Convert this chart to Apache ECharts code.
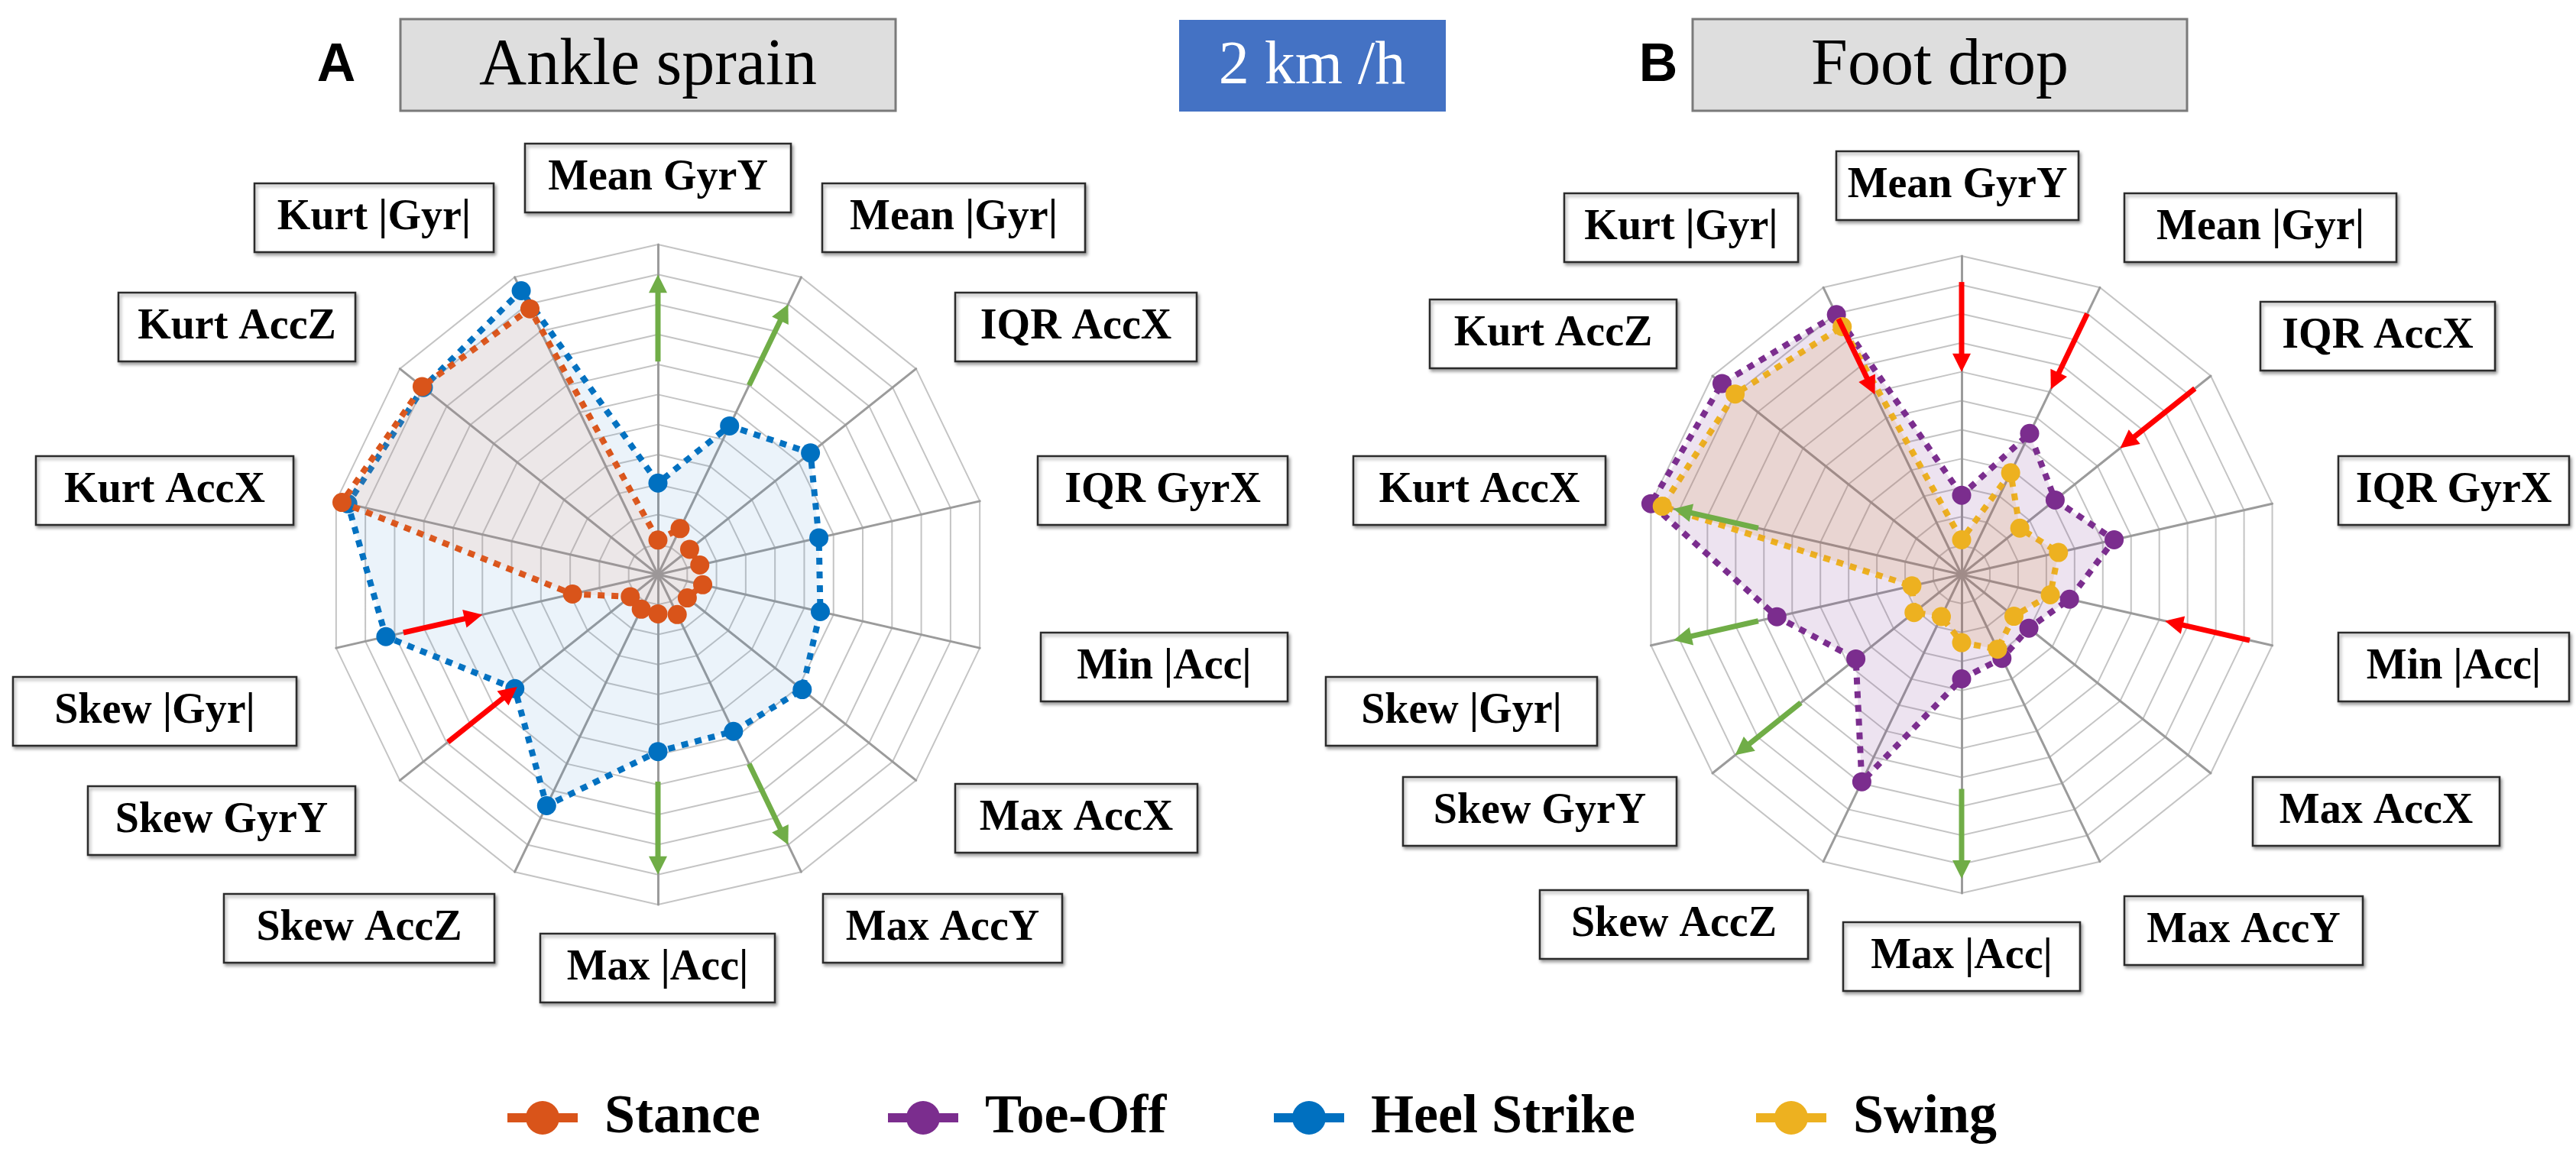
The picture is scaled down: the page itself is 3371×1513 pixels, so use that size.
<!DOCTYPE html>
<html>
<head>
<meta charset="utf-8">
<script src="https://cdn.jsdelivr.net/npm/echarts@6/dist/echarts.min.js"></script>
<style>
  html, body { margin: 0; padding: 0; background: #ffffff; }
  #chart { width: 3371px; height: 1513px; }
</style>
</head>
<body>
<div id="chart"></div>
<script>
// ---------------- DATA ----------------
// features, clockwise from the top
const categories = ['Mean GyrY', 'Mean |Gyr|', 'IQR AccX', 'IQR GyrX', 'Min |Acc|', 'Max AccX', 'Max AccY',
  'Max |Acc|', 'Skew AccZ', 'Skew GyrY', 'Skew |Gyr|', 'Kurt AccX', 'Kurt AccZ', 'Kurt |Gyr|'];
const ringMax = 11;

// Panel A: Ankle sprain
const heelStrikeA = [3.05, 5.5, 6.5, 5.5, 5.55, 6.15, 5.8, 5.9, 8.55, 6.1, 9.3, 10.6, 10.0, 10.5];
const stanceA     = [1.15, 1.7, 1.35, 1.43, 1.53, 1.25, 1.48, 1.31, 1.28, 1.18, 2.92, 10.8, 10.05, 9.83];

// Panel B: Foot drop
const toeOffB = [2.74, 5.41, 4.13, 5.4, 3.82, 2.97, 3.21, 3.6, 7.94, 4.67, 6.54, 11.0, 10.58, 9.96];
const swingB  = [1.2, 3.9, 2.57, 3.43, 3.14, 2.31, 2.86, 2.35, 1.61, 2.1, 1.76, 10.6, 10.0, 9.5];

// arrows: [feature index, from ring, to ring, direction]
const arrowsA = [[0, 7.1, 10, 'up'], [1, 7, 10, 'up'], [6, 7, 10, 'up'], [7, 6.9, 10, 'up'],
  [9, 8.95, 6, 'down'], [10, 8.7, 6, 'down']];
const arrowsB = [[0, 10.1, 7, 'down'], [1, 10, 7.1, 'down'], [2, 10.3, 7, 'down'], [4, 10.2, 7.2, 'down'],
  [13, 9.8, 6.9, 'down'], [11, 7.2, 10.2, 'up'], [10, 7.2, 10.2, 'up'], [9, 7.1, 10, 'up'], [7, 7.4, 10.5, 'up']];

const seriesNames = ['Stance', 'Toe-Off', 'Heel Strike', 'Swing'];
const panelTitles = ['Ankle sprain', 'Foot drop'];
const panelLetters = ['A', 'B'];
const speedLabel = '2 km /h';

// ---------------- STYLE / LAYOUT ----------------
const colors = { 'Stance': '#D9541A', 'Toe-Off': '#7B2D8E', 'Heel Strike': '#0070C0', 'Swing': '#EDB120' };
const areaColors = {
  'Stance': 'rgba(247,145,101,0.16)', 'Heel Strike': 'rgba(68,142,208,0.15)',
  'Toe-Off': 'rgba(125,60,150,0.2)', 'Swing': 'rgba(214,136,44,0.22)'
};
const arrowColors = { up: '#70AD47', down: '#FF0000' };
const panels = [
  { center: [861, 752], radius: 432 },
  { center: [2567, 752], radius: 417 }
];
// label boxes per feature: [x0, x1, centerY]
const labelBoxes = [
  [[687, 1035, 233], [1076, 1420, 285], [1250, 1566, 428], [1358, 1685, 642], [1362, 1685, 873],
   [1250, 1567, 1071], [1077, 1390, 1215], [707, 1014, 1267], [293, 647, 1215], [115, 465, 1074],
   [17, 388, 931], [47, 384, 642], [155, 465, 428], [333, 646, 285]],
  [[2403, 2720, 243], [2780, 3136, 298], [2958, 3265, 440], [3060, 3362, 642], [3060, 3362, 873],
   [2948, 3271, 1062], [2780, 3092, 1218], [2412, 2722, 1252], [2015, 2366, 1210], [1836, 2194, 1062],
   [1735, 2090, 931], [1771, 2101, 642], [1871, 2194, 437], [2047, 2353, 298]]
];
const boxH = 90;
const legendLeft = { 'Stance': 659, 'Toe-Off': 1157, 'Heel Strike': 1662, 'Swing': 2293 };

// ECharts radar runs counter-clockwise: reorder so that features go clockwise
const order = categories.map((c, i) => (categories.length - i) % categories.length);
const reorder = arr => order.map(i => arr[i]);

function radarCfg(p) {
  return {
    center: p.center, radius: p.radius, startAngle: 90, splitNumber: ringMax, shape: 'polygon',
    indicator: order.map(i => ({ name: categories[i], min: 0, max: ringMax })),
    axisName: { show: false },
    axisLine: { lineStyle: { color: '#9b9b9b', width: 3 } },
    splitLine: { lineStyle: { color: '#c4c4c4', width: 2 } },
    splitArea: { show: false },
    axisTick: { show: false }, axisLabel: { show: false }
  };
}

function radarSeries(name, values, radarIndex, z) {
  return {
    type: 'radar', name: name, radarIndex: radarIndex, z: z,
    symbol: 'circle', symbolSize: 25,
    itemStyle: { color: colors[name] },
    lineStyle: { color: colors[name], width: 8, type: [9, 9] },
    areaStyle: { color: areaColors[name] },
    data: [{ name: name, value: reorder(values) }]
  };
}

function renderArrow(params, api) {
  const p0 = api.coord([api.value(0), api.value(1)]);
  const p1 = api.coord([api.value(2), api.value(3)]);
  const color = api.visual('color');
  const dx = p1[0] - p0[0], dy = p1[1] - p0[1];
  const len = Math.sqrt(dx * dx + dy * dy) || 1;
  const ux = dx / len, uy = dy / len;
  const head = 24, hw = 12;
  const bx = p1[0] - ux * head, by = p1[1] - uy * head;
  return {
    type: 'group',
    children: [
      { type: 'line', shape: { x1: p0[0], y1: p0[1], x2: bx + ux * 2, y2: by + uy * 2 },
        style: { stroke: color, lineWidth: 7 } },
      { type: 'polygon', shape: { points: [[p1[0], p1[1]], [bx - uy * hw, by + ux * hw], [bx + uy * hw, by - ux * hw]] },
        style: { fill: color } }
    ]
  };
}

function arrowSeries(arrows, polarIndex) {
  return {
    type: 'custom', coordinateSystem: 'polar', polarIndex: polarIndex, z: 20, silent: true,
    encode: { radius: 0, angle: 1 },
    renderItem: renderArrow,
    data: arrows.map(a => ({ value: [a[1], a[0], a[2], a[0]], itemStyle: { color: arrowColors[a[3]] } }))
  };
}

// graphic: titles and feature label boxes
const graphic = [];
const titleBoxes = [[524, 25, 648, 120], [2215, 25, 647, 120]];
const letterPos = [[440, 87], [2170, 87]];
panelTitles.forEach((t, k) => {
  const b = titleBoxes[k];
  graphic.push({ type: 'rect', z: 30, shape: { x: b[0], y: b[1], width: b[2], height: b[3] },
    style: { fill: '#DEDEDE', stroke: '#7a7a7a', lineWidth: 3 } });
  graphic.push({ type: 'text', z: 31, x: b[0] + b[2] / 2, y: b[1] + b[3] / 2 + 2,
    style: { text: t, font: '86px "Liberation Serif"', fill: '#000', align: 'center', verticalAlign: 'middle',
      textAlign: 'center', textVerticalAlign: 'middle' } });
  graphic.push({ type: 'text', z: 31, x: letterPos[k][0], y: letterPos[k][1],
    style: { text: panelLetters[k], font: 'bold 70px "Liberation Sans"', fill: '#000', align: 'center',
      verticalAlign: 'middle', textAlign: 'center', textVerticalAlign: 'middle' } });
});
graphic.push({ type: 'rect', z: 30, shape: { x: 1543, y: 26, width: 349, height: 120 },
  style: { fill: '#4472C4' } });
graphic.push({ type: 'text', z: 31, x: 1717, y: 88,
  style: { text: speedLabel, font: '80px "Liberation Serif"', fill: '#fff', align: 'center', verticalAlign: 'middle',
    textAlign: 'center', textVerticalAlign: 'middle' } });

labelBoxes.forEach(boxes => {
  boxes.forEach((b, i) => {
    graphic.push({ type: 'rect', z: 30, shape: { x: b[0], y: b[2] - boxH / 2, width: b[1] - b[0], height: boxH },
      style: { fill: '#fff', stroke: '#2b2b2b', lineWidth: 2.5, shadowBlur: 4, shadowOffsetX: 2, shadowOffsetY: 3,
        shadowColor: 'rgba(0,0,0,0.35)' } });
    graphic.push({ type: 'text', z: 31, x: (b[0] + b[1]) / 2, y: b[2] + 1,
      style: { text: categories[i], font: 'bold 56px "Liberation Serif"', fill: '#000', align: 'center',
        verticalAlign: 'middle', textAlign: 'center', textVerticalAlign: 'middle' } });
  });
});

const legendIcon = 'path://M0,16 L92,16 L92,28 L0,28 Z M24,22 A22,22 0 1 1 68,22 A22,22 0 1 1 24,22 Z';
const legends = seriesNames.map(n => ({
  data: [n], left: legendLeft[n], top: 1422, orient: 'horizontal',
  icon: legendIcon, itemWidth: 92, itemHeight: 44, selectedMode: false,
  textStyle: { fontFamily: 'Liberation Serif', fontWeight: 'bold', fontSize: 72, color: '#000', padding: [4, 0, 0, 30] }
}));

const option = {
  backgroundColor: '#ffffff',
  animation: false,
  radar: panels.map(radarCfg),
  polar: panels.map(p => ({ center: p.center, radius: p.radius })),
  angleAxis: panels.map((p, k) => ({ polarIndex: k, type: 'value', min: 0, max: categories.length,
    startAngle: 90, clockwise: true, show: false })),
  radiusAxis: panels.map((p, k) => ({ polarIndex: k, type: 'value', min: 0, max: ringMax, show: false })),
  legend: legends,
  graphic: graphic,
  series: [
    radarSeries('Heel Strike', heelStrikeA, 0, 2),
    radarSeries('Stance', stanceA, 0, 3),
    radarSeries('Toe-Off', toeOffB, 1, 2),
    radarSeries('Swing', swingB, 1, 3),
    arrowSeries(arrowsA, 0),
    arrowSeries(arrowsB, 1)
  ]
};

const chart = echarts.init(document.getElementById('chart'), null, { renderer: 'canvas' });
chart.setOption(option);
</script>
</body>
</html>
